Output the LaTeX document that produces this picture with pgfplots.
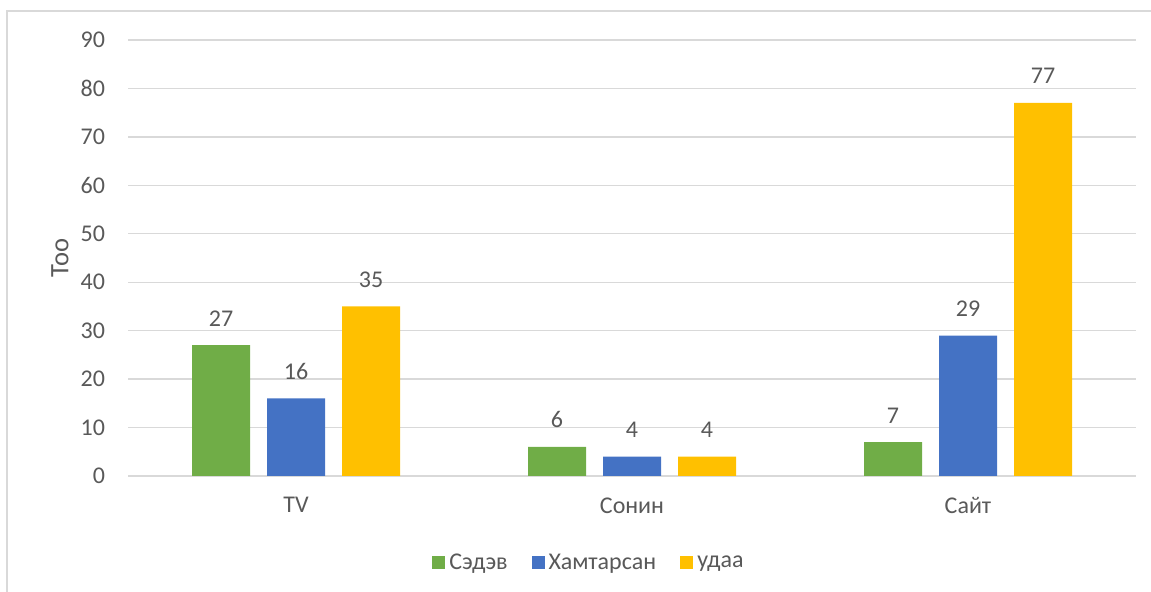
\documentclass[border=0pt]{standalone}
\usepackage{pgfplots}
\pgfplotsset{compat=1.18}
\usepackage{fontspec}
\setmainfont{Carlito}
\definecolor{cgreen}{HTML}{70AD47}
\definecolor{cblue}{HTML}{4472C4}
\definecolor{cyellow}{HTML}{FFC000}
\definecolor{gridgray}{HTML}{D9D9D9}
\definecolor{txtgray}{HTML}{595959}
\begin{document}
\begin{tikzpicture}
\useasboundingbox (0,0) rectangle (575.5pt,296pt);
\draw[gridgray, line width=1pt] (3.5pt,-10pt) -- (3.5pt,290.5pt) -- (590pt,290.5pt);
\begin{axis}[
  at={(64pt,58pt)}, anchor=south west,
  width=504pt, height=218pt, scale only axis,
  xmin=-0.5, xmax=2.5, ymin=0, ymax=90,
  ybar=8.5pt, bar width=29pt,
  xtick={0,1,2}, xticklabels={TV,Сонин,Сайт},
  ytick={0,10,...,90},
  ymajorgrids, grid style={gridgray, line width=0.7pt},
  axis line style={draw=none},
  major tick style={draw=none},
  tick label style={font=\fontsize{12}{14}\selectfont, text=txtgray},
  /pgf/number format/assume math mode=true,
  xticklabel style={yshift=-3pt},
  yticklabel style={xshift=-8pt},
  ylabel={Тоо},
  ylabel style={at={(axis description cs:0,0.5)}, anchor=center, yshift=34pt, font=\fontsize{13.3}{15}\selectfont, text=txtgray},
  nodes near coords,
  every node near coord/.append style={font=\fontsize{12}{14}\selectfont, text=txtgray, yshift=6pt},
  legend columns=3,
  legend style={at={(axis description cs:0.5,0)}, anchor=center, yshift=-43.5pt, xshift=-21pt, draw=none, font=\fontsize{12}{14}\selectfont, text=txtgray, /tikz/every even column/.append style={column sep=10pt}, inner xsep=0pt},
  legend image code/.code={\fill[#1] (0pt,-3.25pt) rectangle (6.5pt,3.25pt);},
]
\addplot[fill=cgreen, draw=none] coordinates {(0,27) (1,6) (2,7)};
\addplot[fill=cblue, draw=none] coordinates {(0,16) (1,4) (2,29)};
\addplot[fill=cyellow, draw=none] coordinates {(0,35) (1,4) (2,77)};
\legend{Сэдэв,Хамтарсан,удаа}
\end{axis}
\end{tikzpicture}
\end{document}
